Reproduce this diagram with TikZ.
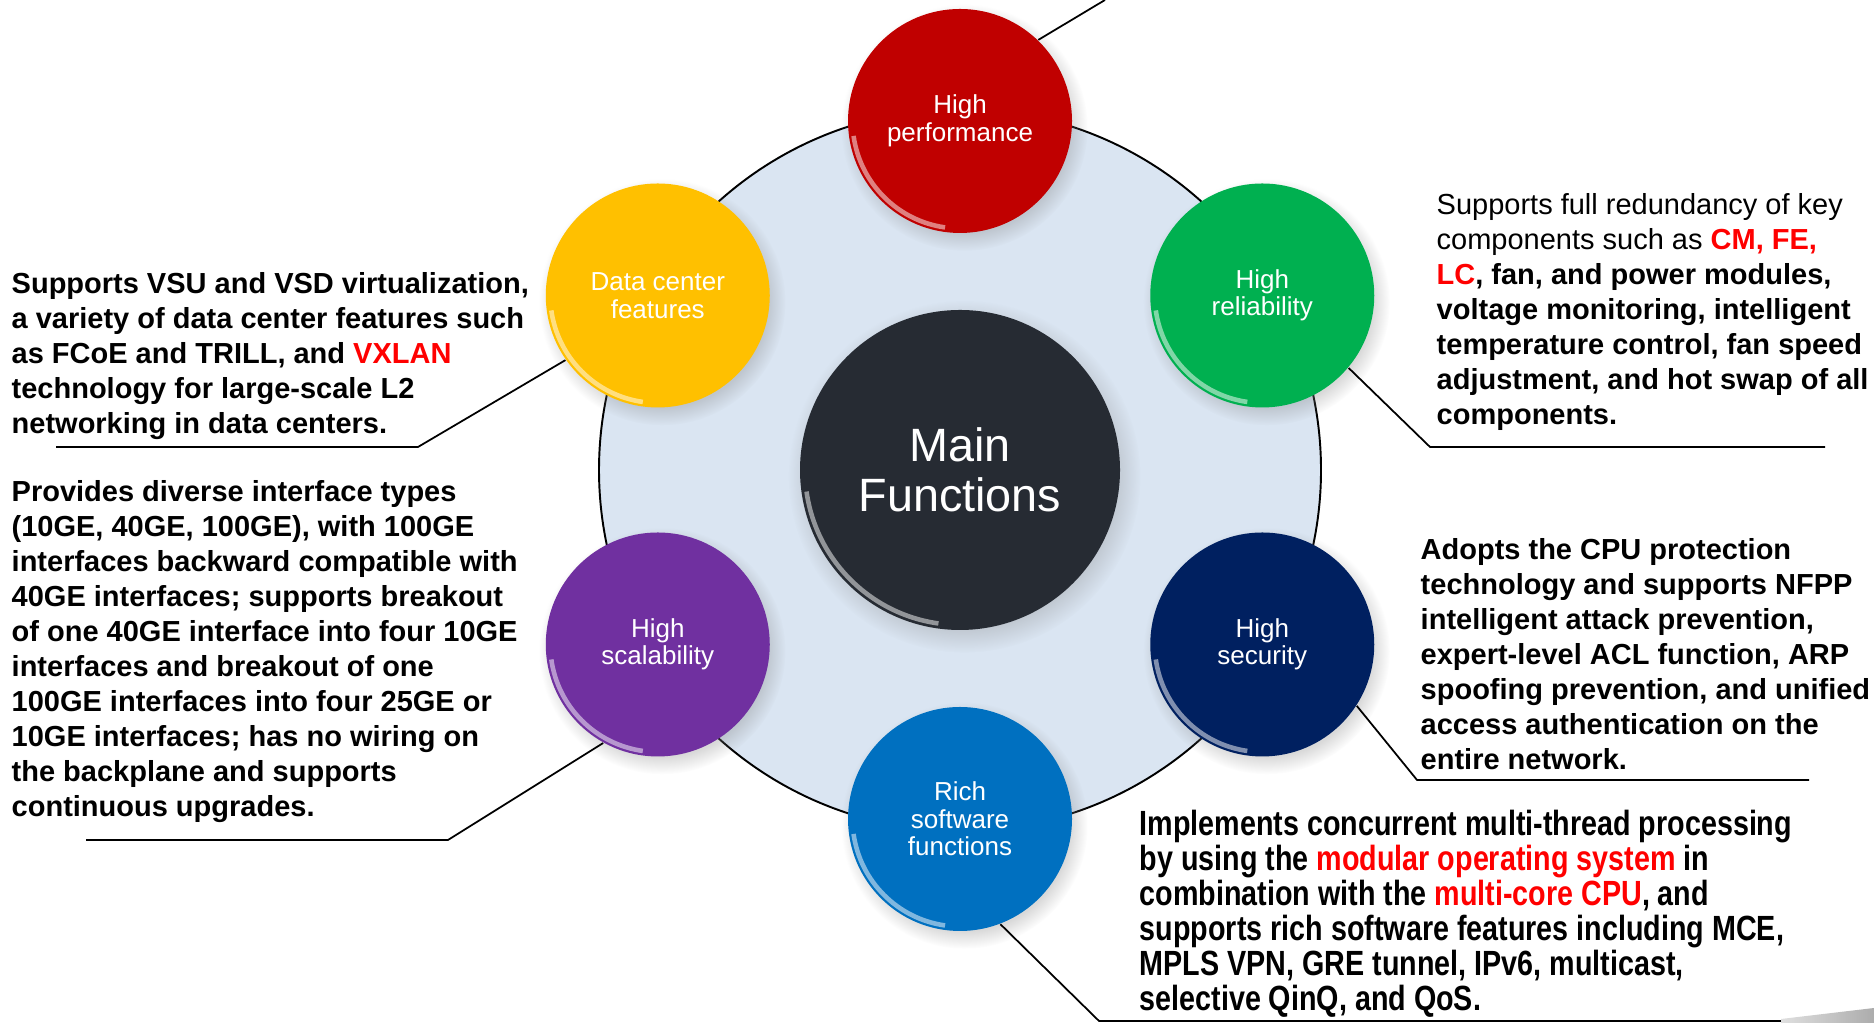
\documentclass[tikz,border=0pt]{standalone}
\usepackage{fontspec}
\setmainfont{Liberation Sans}
\newfontfamily\narrowfont[FakeStretch=0.82]{Liberation Sans}
\usepackage{xcolor}
\usetikzlibrary{shadows}

\definecolor{perfred}{HTML}{C00000}
\definecolor{dcyellow}{HTML}{FFC000}
\definecolor{relgreen}{HTML}{00B050}
\definecolor{scalpurple}{HTML}{7030A0}
\definecolor{secnavy}{HTML}{002060}
\definecolor{swblue}{HTML}{0070C0}
\definecolor{hubdark}{HTML}{262B33}
\definecolor{ringblue}{HTML}{DAE5F2}
\definecolor{keyred}{HTML}{FF0000}
\newcommand{\keyword}[1]{\textcolor{keyred}{#1}}

\begin{document}
\begin{tikzpicture}[
    rim/.style={path picture={
                  \draw[white, opacity=0.5, line width=1.3pt]
                    (path picture bounding box.center) ++(188:#1)
                    arc[start angle=188, end angle=262, radius=#1];}},
    btn/.style={circle, minimum size=2.24cm, inner sep=0pt, align=center,
                text=white, font=\fontsize{7.4}{7.8}\selectfont,
                circular drop shadow={shadow xshift=0.4mm,
                                      shadow yshift=-0.6mm, opacity=0.3},
                rim=1.075},
    hubbtn/.style={btn, minimum size=3.2cm, fill=hubdark, rim=1.55,
                   font=\fontsize{13.3}{14.4}\selectfont},
    desc/.style={anchor=base west, align=left, inner sep=0pt,
                 font=\fontsize{8.25}{9.96}\selectfont\bfseries},
    lead/.style={draw=black, line width=0.5pt},
  ]
  \useasboundingbox (0,0) rectangle (18.74,10.23);

  % Ring and hub
  \coordinate (mid) at (9.60,5.53);
  \draw[fill=ringblue, line width=0.55pt] (mid) circle[radius=3.61];
  \node[hubbtn] (hub) at (mid) {Main\\Functions};

  % Function buttons
  \node[btn, fill=perfred]    (perf) at ([shift={(90:3.49)}]mid)  {High\\performance};
  \node[btn, fill=relgreen]   (rel)  at ([shift={(30:3.49)}]mid)  {High\\reliability};
  \node[btn, fill=secnavy]    (sec)  at ([shift={(-30:3.49)}]mid) {High\\security};
  \node[btn, fill=swblue]     (sw)   at ([shift={(-90:3.49)}]mid) {Rich\\software\\functions};
  \node[btn, fill=scalpurple] (scal) at ([shift={(210:3.49)}]mid) {High\\scalability};
  \node[btn, fill=dcyellow]   (dc)   at ([shift={(150:3.49)}]mid) {Data center\\features};

  % Descriptions (base = last line)
  \node[desc] (dc-txt) at (0.11,5.89)
    {Supports VSU and VSD virtualization,\\
     a variety of data center features such\\
     as FCoE and TRILL, and \keyword{VXLAN}\\
     technology for large-scale L2\\
     networking in data centers.};
  \node[desc] (scal-txt) at (0.11,2.06)
    {Provides diverse interface types\\
     (10GE, 40GE, 100GE), with 100GE\\
     interfaces backward compatible with\\
     40GE interfaces; supports breakout\\
     of one 40GE interface into four 10GE\\
     interfaces and breakout of one\\
     100GE interfaces into four 25GE or\\
     10GE interfaces; has no wiring on\\
     the backplane and supports\\
     continuous upgrades.};
  \node[desc] (rel-txt) at (14.36,5.98)
    {\textmd{Supports full redundancy of key}\\
     \textmd{components such as} \keyword{CM, FE,}\\
     \keyword{LC}, fan, and power modules,\\
     voltage monitoring, intelligent\\
     temperature control, fan speed\\
     adjustment, and hot swap of all\\
     components.};
  \node[desc] (sec-txt) at (14.20,2.53)
    {Adopts the CPU protection\\
     technology and supports NFPP\\
     intelligent attack prevention,\\
     expert-level ACL function, ARP\\
     spoofing prevention, and unified\\
     access authentication on the\\
     entire network.};
  \node[desc, font=\narrowfont\fontsize{9.96}{9.96}\selectfont\bfseries]
    (sw-txt) at (11.39,0.12)
    {Implements concurrent multi-thread processing\\
     by using the \keyword{modular operating system} in\\
     combination with the \keyword{multi-core CPU}, and\\
     supports rich software features including MCE,\\
     MPLS VPN, GRE tunnel, IPv6, multicast,\\
     selective QinQ, and QoS.};

  % Leader lines
  \coordinate (perf-end) at (11.05,10.23);
  \coordinate (dc-knee)  at (4.18,5.76);
  \coordinate (dc-end)   at (0.56,5.76);
  \coordinate (scal-knee) at (4.48,1.83);
  \coordinate (scal-end)  at (0.86,1.83);
  \coordinate (rel-knee) at (14.30,5.76);
  \coordinate (rel-end)  at (18.25,5.76);
  \coordinate (sec-knee) at (14.17,2.43);
  \coordinate (sec-end)  at (18.09,2.43);
  \coordinate (sw-knee)  at (10.99,0.02);
  \coordinate (sw-end)   at (17.81,0.02);
  \draw[lead] (perf.46) -- (perf-end);
  \draw[lead] (dc.215) -- (dc-knee) -- (dc-end);
  \draw[lead] (scal.241) -- (scal-knee) -- (scal-end);
  \draw[lead] (rel.320) -- (rel-knee) -- (rel-end);
  \draw[lead] (sec.327) -- (sec-knee) -- (sec-end);
  \draw[lead] (sw.291) -- (sw-knee) -- (sw-end);

  % Corner shade
  \shade[left color=gray!25, right color=gray!65]
    (17.81,0) -- (17.81,0.04) -- (18.74,0.15) -- (18.74,0) -- cycle;
\end{tikzpicture}
\end{document}
